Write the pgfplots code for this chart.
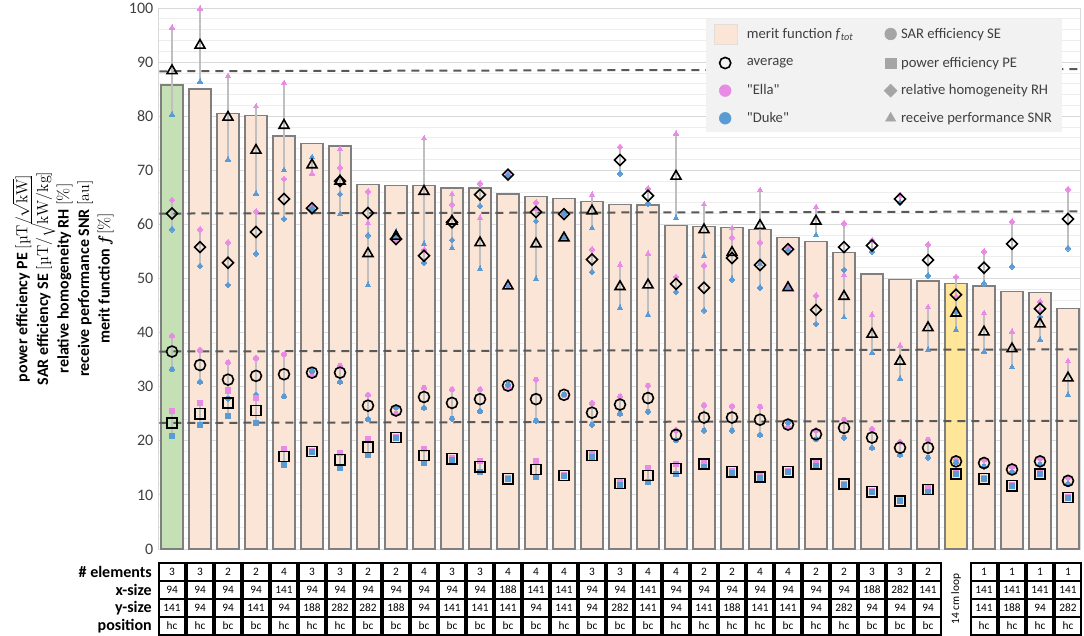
\documentclass[border=0pt]{standalone}
\usepackage{pgfplots}
\pgfplotsset{compat=1.18}
\usepackage{pgfplotstable}
\usepackage{fontspec}
\setsansfont[Ligatures=TeXOff]{Carlito}
\definecolor{peach}{HTML}{FBE5D6}
\definecolor{bargreen}{HTML}{C5E0B4}
\definecolor{baryellow}{HTML}{FFE699}
\definecolor{baredge}{HTML}{7F7F7F}
\definecolor{ella}{HTML}{E98BE6}
\definecolor{duke}{HTML}{5B9BD5}
\definecolor{conn}{HTML}{BFBFBF}
\definecolor{dashc}{HTML}{595959}
\definecolor{leggrey}{HTML}{A5A5A5}
\definecolor{legbg}{HTML}{F2F2F2}
\definecolor{majgrid}{HTML}{D9D9D9}
\definecolor{mingrid}{HTML}{EDEDED}
\definecolor{ticktext}{HTML}{404040}

\pgfplotstableread{
x f SNRe SNRd SNRa RHe RHd RHa SEe SEd SEa PEe PEd PEa
1 85.8 96.4 80.3 88.4 64.5 59.1 62.0 39.4 33.2 36.5 25.5 20.9 23.3
2 85.0 99.9 86.4 93.1 59.1 52.3 55.8 36.8 30.9 34.0 27.0 23.0 25.0
3 80.5 87.4 72.0 79.8 56.7 48.8 52.9 34.5 27.8 31.3 29.3 24.5 27.0
4 80.1 81.8 65.7 73.7 62.4 54.6 58.6 35.3 28.5 32.0 27.9 23.3 25.6
5 76.3 86.1 70.0 78.3 68.4 61.0 64.7 36.0 28.2 32.3 18.5 15.6 17.1
6 75.0 69.4 72.4 71.0 63.2 62.9 63.0 32.1 32.9 32.6 18.2 17.9 18.0
7 74.5 73.9 61.9 68.0 70.5 65.6 68.0 33.9 30.9 32.6 17.8 14.9 16.5
8 67.4 60.2 48.8 54.6 66.1 58.0 62.1 28.5 24.0 26.5 20.4 17.3 18.8
9 67.2 57.0 58.6 57.8 56.8 57.8 57.3 25.0 26.2 25.6 20.7 20.5 20.6
10 67.2 75.9 56.4 66.1 55.3 52.9 54.2 29.8 26.1 28.1 18.5 15.9 17.3
11 66.7 65.6 55.6 60.6 63.7 57.1 60.4 29.5 24.1 27.0 16.9 16.5 16.7
12 66.7 61.2 51.8 56.6 67.6 63.4 65.5 29.5 25.5 27.7 16.2 14.3 15.2
13 65.6 48.8 48.4 48.6 69.4 69.0 69.2 30.0 30.4 30.2 13.1 12.9 13.0
14 65.2 62.9 49.9 56.4 64.0 60.6 62.3 31.3 23.7 27.7 16.3 13.3 14.7
15 64.8 57.4 57.6 57.5 61.8 62.0 61.9 28.4 28.6 28.5 13.7 13.5 13.6
16 64.2 65.5 59.3 62.5 55.4 51.2 53.5 27.0 23.0 25.2 17.6 17.0 17.3
17 63.7 52.5 44.6 48.5 74.3 69.4 71.9 28.2 25.0 26.7 12.4 11.8 12.1
18 63.6 54.6 43.3 48.8 66.6 63.9 65.3 30.2 25.4 27.9 14.9 12.3 13.6
19 59.8 76.8 61.2 68.9 50.3 47.5 49.0 22.0 20.1 21.1 15.7 13.9 14.9
20 59.6 63.7 54.2 59.0 52.4 44.1 48.3 26.6 21.9 24.3 16.0 15.2 15.7
21 59.4 59.3 49.9 54.8 57.6 49.8 53.8 26.4 21.9 24.3 14.5 14.1 14.3
22 59.1 66.3 52.7 59.8 56.7 48.3 52.5 26.3 21.1 23.9 13.5 13.1 13.3
23 57.6 48.4 48.2 48.3 55.6 55.2 55.4 22.6 23.4 23.0 14.4 14.2 14.3
24 56.8 63.2 58.0 60.6 46.8 41.6 44.2 22.0 20.3 21.2 16.0 15.3 15.7
25 54.8 50.6 42.8 46.7 60.2 51.6 55.8 23.9 20.6 22.4 12.1 11.9 12.0
26 50.8 43.3 36.3 39.7 57.1 55.0 56.1 22.2 18.7 20.6 10.7 10.5 10.6
27 49.8 37.6 31.5 34.7 65.4 64.0 64.7 19.8 17.4 18.7 9.0 8.8 8.9
28 49.5 44.7 36.8 40.9 56.3 50.5 53.4 20.2 16.9 18.7 11.3 10.6 11.0
29 49.1 46.7 40.5 43.6 50.3 43.8 47.0 16.5 16.0 16.2 14.0 13.8 13.9
30 48.6 43.6 36.5 40.1 55.0 49.1 52.0 16.5 15.2 15.9 13.1 12.9 13.0
31 47.6 40.2 33.6 37.0 60.5 52.2 56.4 15.2 14.2 14.7 11.8 11.6 11.7
32 47.4 44.1 38.7 41.6 45.7 42.9 44.4 16.7 15.6 16.2 14.0 13.8 13.9
33 44.5 34.7 28.5 31.6 66.5 55.6 61.0 13.2 12.0 12.6 9.6 9.4 9.5
}\data

\pgfplotsset{
  conn/.style={forget plot, no markers, draw=none, error bars/.cd, y dir=minus, y explicit, error mark=none,
    error bar style={draw=conn, line width=0.8pt, solid}},
  smallcirc/.style={forget plot, only marks, mark=*, mark size=1.9pt, color=#1, mark options={solid, draw=#1, fill=#1, line width=0pt}},
  smallsq/.style={forget plot, only marks, mark=square*, mark size=1.9pt, color=#1, mark options={solid, draw=#1, fill=#1, line width=0pt}},
  smalldia/.style={forget plot, only marks, mark=square*, mark size=1.5pt, color=#1, mark options={solid, rotate=45, draw=#1, fill=#1, line width=0pt}},
  smalltri/.style={forget plot, only marks, mark=triangle*, mark size=2.3pt, color=#1, mark options={solid, draw=#1, fill=#1, line width=0pt}},
  avgcirc/.style={forget plot, only marks, mark=o, mark size=4.1pt, black, mark options={solid, line width=1.2pt}},
  avgsq/.style={forget plot, only marks, mark=square, mark size=3.8pt, black, mark options={solid, line width=1.2pt}},
  avgdia/.style={forget plot, only marks, mark=square, mark size=2.9pt, black, mark options={solid, rotate=45, line width=1.2pt}},
  avgtri/.style={forget plot, only marks, mark=triangle, mark size=4.3pt, black, mark options={solid, line width=1.2pt}},
}

\begin{document}
\begin{tikzpicture}[x=1pt,y=1pt]
\path[use as bounding box] (0,0) rectangle (813,476.25);
\begin{axis}[
  at={(118.5pt,64.5pt)}, anchor=south west,
  x=21pt, y=4.0575pt,
  xmin=0.5, xmax=33.45, ymin=0, ymax=100,
  clip=false,
  xtick=\empty,
  ytick={0,10,...,100},
  minor y tick num=4,
  ymajorgrids, yminorgrids,
  major grid style={draw=majgrid, line width=0.7pt},
  minor grid style={draw=mingrid, line width=0.6pt},
  major tick length=0pt, minor tick length=0pt,
  axis line style={draw=majgrid, line width=0.7pt},
  /pgf/number format/assume math mode=true,
  yticklabel style={font=\sffamily\fontsize{12}{14}\selectfont, text=ticktext},
  ylabel={power efficiency PE {\rmfamily\mdseries [µT/\smash{$\sqrt{\mathrm{kW}}$}]}\\SAR efficiency SE {\rmfamily\mdseries [µT/\smash{$\sqrt{\mathrm{kW/kg}}$}]}\\relative homogeneity RH {\rmfamily\mdseries [\%]}\\receive performance SNR {\rmfamily\mdseries [au]}\\merit function {\rmfamily\itshape f} {\rmfamily\mdseries [\%]}},
  ylabel style={at={(axis description cs:-0.043,0.5)}, anchor=south, align=center,
    font=\sffamily\bfseries\fontsize{12}{15.4}\selectfont},
  legend columns=2,
  legend cell align=left,
  legend style={at={(rel axis cs:0.594,0.981)}, anchor=north west, draw=none, fill=legbg,
    font=\sffamily\fontsize{11}{13}\selectfont, text=ticktext,
    inner xsep=6pt, inner ysep=4pt, row sep=7.6pt,
    /tikz/every even column/.append style={column sep=21pt}},
]
% bars
\addplot[forget plot, ybar, bar shift=0pt, bar width=0.78, fill=peach, draw=baredge, line width=1.1pt] table[x=x,y=f]{\data};
\addplot[forget plot, ybar, bar shift=0pt, bar width=0.78, fill=bargreen, draw=baredge, line width=1.1pt] coordinates {(1,85.8)};
\addplot[forget plot, ybar, bar shift=0pt, bar width=0.78, fill=baryellow, draw=baredge, line width=1.1pt] coordinates {(29,49.1)};
% reference dashed lines
\addplot[forget plot, dashc, line width=1.5pt, dash pattern=on 6pt off 4.5pt] coordinates {(0.55,88.3) (33.4,88.7)};
\addplot[forget plot, dashc, line width=1.5pt, dash pattern=on 6pt off 4.5pt] coordinates {(0.55,62.0) (33.4,62.4)};
\addplot[forget plot, dashc, line width=1.5pt, dash pattern=on 6pt off 4.5pt] coordinates {(0.55,36.5) (33.4,36.9)};
\addplot[forget plot, dashc, line width=1.5pt, dash pattern=on 6pt off 4.5pt] coordinates {(0.55,23.3) (33.4,23.7)};
% connectors Ella-Duke
\addplot[conn] table[x=x, y=SNRe, y error minus expr=\thisrow{SNRe}-\thisrow{SNRd}]{\data};
\addplot[conn] table[x=x, y=RHe, y error minus expr=\thisrow{RHe}-\thisrow{RHd}]{\data};
\addplot[conn] table[x=x, y=SEe, y error minus expr=\thisrow{SEe}-\thisrow{SEd}]{\data};
\addplot[conn] table[x=x, y=PEe, y error minus expr=\thisrow{PEe}-\thisrow{PEd}]{\data};
% small markers
\addplot[smalltri=ella] table[x=x,y=SNRe]{\data};
\addplot[smalltri=duke] table[x=x,y=SNRd]{\data};
\addplot[smalldia=ella] table[x=x,y=RHe]{\data};
\addplot[smalldia=duke] table[x=x,y=RHd]{\data};
\addplot[smallcirc=ella] table[x=x,y=SEe]{\data};
\addplot[smallcirc=duke] table[x=x,y=SEd]{\data};
\addplot[smallsq=ella] table[x=x,y=PEe]{\data};
\addplot[smallsq=duke] table[x=x,y=PEd]{\data};
% averages
\addplot[avgtri] table[x=x,y=SNRa]{\data};
\addplot[avgdia] table[x=x,y=RHa]{\data};
\addplot[avgcirc] table[x=x,y=SEa]{\data};
\addplot[avgsq] table[x=x,y=PEa]{\data};
% legend
\addlegendimage{legend image code/.code={\draw[fill=peach, draw=peach!60!gray!50] (0.02cm,-0.26cm) rectangle (0.62cm,0.26cm);}}
\addlegendentry{\hspace{5pt}merit function \textit{f}\textsubscript{\textit{tot}}}
\addlegendimage{legend image code/.code={\draw[only marks, mark=*, mark size=4.4pt, leggrey, mark options={draw=leggrey, fill=leggrey}] plot coordinates {(0.3cm,0cm)};}}
\addlegendentry{\hspace{1pt}SAR efficiency SE}
\addlegendimage{legend image code/.code={\draw[only marks, mark=o, mark size=4.2pt, black, mark options={line width=1.2pt}] plot coordinates {(0.3cm,0cm)};}}
\addlegendentry{\hspace{5pt}average}
\addlegendimage{legend image code/.code={\draw[only marks, mark=square*, mark size=3.9pt, leggrey, mark options={draw=leggrey, fill=leggrey}] plot coordinates {(0.3cm,0cm)};}}
\addlegendentry{\hspace{1pt}power efficiency PE}
\addlegendimage{legend image code/.code={\draw[only marks, mark=*, mark size=4.4pt, ella, mark options={draw=ella, fill=ella}] plot coordinates {(0.3cm,0cm)};}}
\addlegendentry{\hspace{5pt}"Ella"}
\addlegendimage{legend image code/.code={\draw[only marks, mark=square*, mark size=3.4pt, leggrey, mark options={rotate=45, draw=leggrey, fill=leggrey}] plot coordinates {(0.3cm,0cm)};}}
\addlegendentry{\hspace{1pt}relative homogeneity RH}
\addlegendimage{legend image code/.code={\draw[only marks, mark=*, mark size=4.4pt, duke, mark options={draw=duke, fill=duke}] plot coordinates {(0.3cm,0cm)};}}
\addlegendentry{\hspace{5pt}"Duke"}
\addlegendimage{legend image code/.code={\draw[only marks, mark=triangle*, mark size=4.4pt, leggrey, mark options={draw=leggrey, fill=leggrey}] plot coordinates {(0.3cm,0cm)};}}
\addlegendentry{\hspace{1pt}receive performance SNR\hspace{6pt}}
\end{axis}
% table below
\tikzset{cell/.style={draw=black, line width=0.8pt, minimum width=19.5pt, minimum height=13.5pt, inner sep=0pt,
  font=\sffamily\fontsize{8.5}{10}\selectfont, anchor=center},
  rowlab/.style={anchor=east, font=\sffamily\bfseries\fontsize{12}{14}\selectfont, inner sep=0pt}}
\node[rowlab] at (114,47.25) {\# elements};
\node[rowlab] at (114,33.75) {x-size};
\node[rowlab] at (114,20.25) {y-size};
\node[rowlab] at (114,6.75) {position};
\foreach \i/\a/\b/\c/\d in {1/3/94/141/hc,2/3/94/94/hc,3/2/94/94/bc,4/2/94/141/bc,5/4/141/94/hc,6/3/94/188/hc,7/3/94/282/hc,8/2/94/282/bc,9/2/94/188/bc,10/4/94/94/bc,11/3/94/141/bc,12/3/94/141/bc,13/4/188/141/bc,14/4/141/94/bc,15/4/141/141/hc,16/3/94/94/bc,17/3/94/282/bc,18/4/141/141/bc,19/4/94/94/hc,20/2/94/141/hc,21/2/94/188/hc,22/4/94/141/hc,23/4/94/141/bc,24/2/94/94/hc,25/2/94/282/hc,26/3/188/94/bc,27/3/282/94/bc,28/2/141/94/bc,30/1/141/141/hc,31/1/141/188/hc,32/1/141/94/hc,33/1/141/282/hc}{
  \pgfmathsetmacro\xx{118.5+(\i-0.5)*21}
  \node[cell] at (\xx,47.25) {\a};
  \node[cell] at (\xx,33.75) {\b};
  \node[cell] at (\xx,20.25) {\c};
  \node[cell] at (\xx,6.75) {\d};
}
\node[rotate=90, font=\sffamily\fontsize{8.5}{10}\selectfont, inner sep=0pt] at ({118.5+28.5*21},27) {14 cm loop};
\end{tikzpicture}
\end{document}
